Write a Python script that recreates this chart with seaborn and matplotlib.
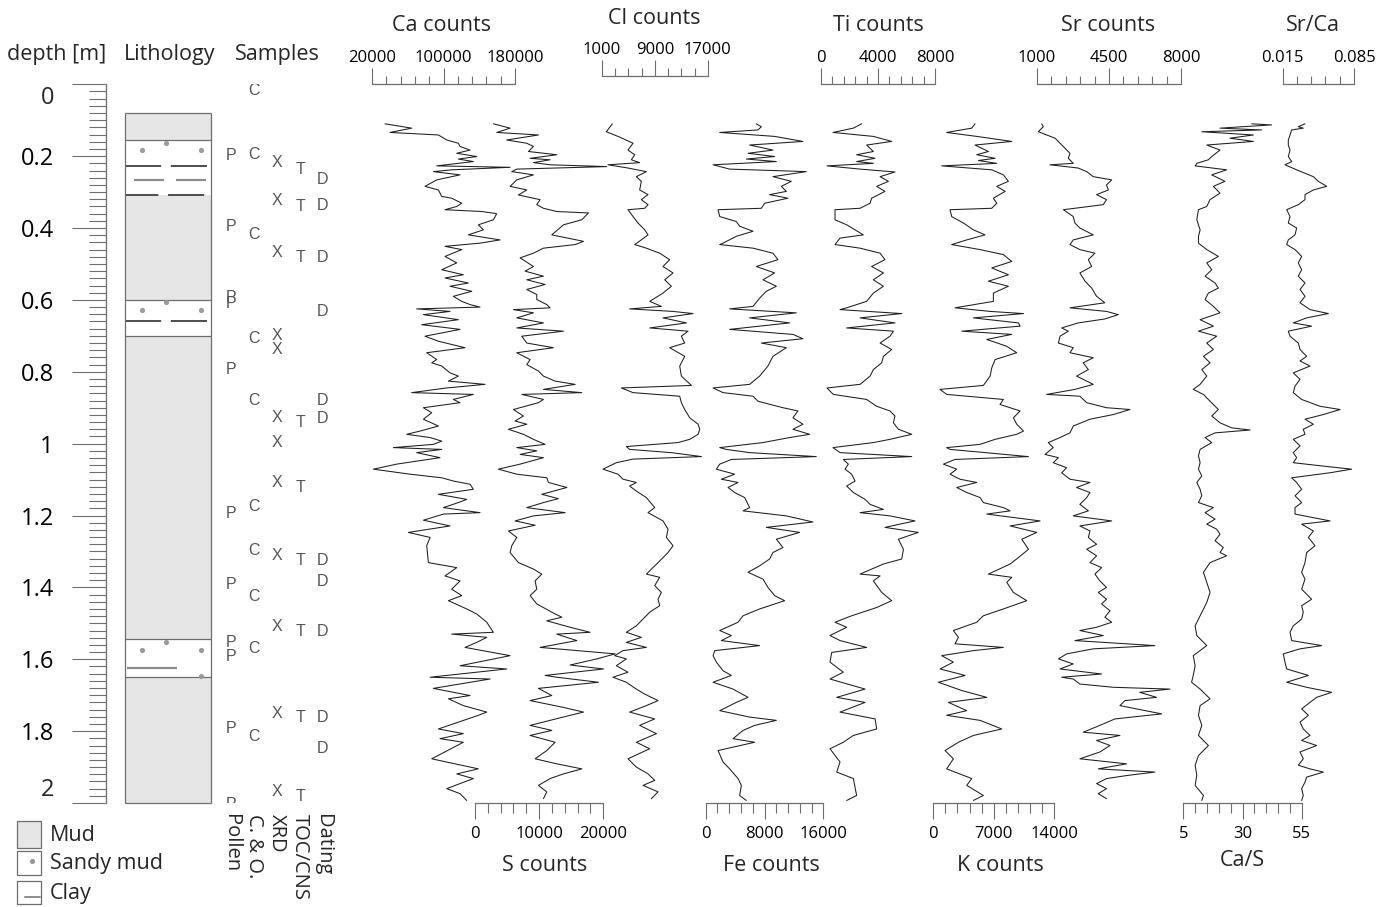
import numpy as np
import matplotlib
matplotlib.use("Agg")
import matplotlib.pyplot as plt
from matplotlib.ticker import FixedLocator
from matplotlib.patches import Rectangle
import seaborn as sns

# ---------------- data ----------------
ca_depth = [0.110,0.122,0.134,0.141,0.155,0.164,0.173,0.183,0.192,0.201,
            0.208,0.215,0.221,0.227,0.231,0.238,0.243,0.252,0.266,0.284,
            0.294,0.312,0.317,0.331,0.340,0.349,0.354,0.360,0.377,0.391,
            0.405,0.419,0.433,0.442,0.451,0.460,0.479,0.497,0.516,0.530,
            0.539,0.553,0.562,0.576,0.590,0.604,0.613,0.620,0.625,0.632,
            0.641,0.655,0.669,0.682,0.701,0.715,0.733,0.747,0.766,0.775,
            0.784,0.803,0.812,0.826,0.835,0.845,0.858,0.863,0.877,0.886,
            0.900,0.914,0.932,0.951,0.965,0.974,0.983,0.993,1.002,1.011,
            1.016,1.025,1.039,
            1.057,1.071,1.085,1.095,1.104,1.113,1.127,1.141,1.155,1.164,
            1.178,1.192,1.196,1.213,1.229,1.247,1.261,1.284,1.331,1.345,
            1.368,1.382,1.405,1.423,1.437,1.460,1.474,1.497,1.525,1.530,
            1.539,1.553,1.567,1.590,1.618,1.627,1.650,1.655,1.681,1.701,
            1.710,1.729,1.747,1.756,1.794,1.807,1.821,1.831,1.877,1.905,
            1.919,1.932,1.960,1.974,1.993]
ca_counts = [34600,64400,40200,94300,103600,116600,118500,129700,114800,137200,
             116600,133400,112900,92400,174500,109200,88700,118500,92400,79300,
             94300,98000,109200,120400,114800,101700,142800,159500,155800,139000,
             144600,127800,163300,140900,101700,120400,101700,114800,98000,122200,
             101700,127800,107300,131600,111000,120400,129700,140900,70000,107300,
             77500,116600,75600,118500,79300,94300,124100,81200,92400,86800,
             98000,107300,116600,105500,146500,103600,64400,133400,111000,118500,
             77500,86800,77500,94300,73700,58800,85000,98000,88700,43900,
             98000,70000,96100,
             47600,21500,62600,98000,111000,129700,133400,94300,126000,116600,
             99900,140900,99900,77500,107300,60700,85000,81200,83100,114800,
             101700,118500,109200,120400,105500,126000,137200,148400,155800,109200,
             148400,137200,124100,174500,118500,170700,85000,152100,88700,129700,
             105500,122200,148400,139000,94300,122200,96100,122200,86800,139000,
             114800,133400,103600,118500,126000]

s_depth = [0.110,0.122,0.134,0.141,0.155,0.164,0.173,0.187,0.196,0.206,
           0.210,0.218,0.224,0.229,0.236,0.243,0.252,0.266,0.284,0.294,
           0.308,0.321,0.335,0.345,0.354,0.358,0.377,0.391,0.419,0.437,
           0.446,0.456,0.470,0.483,0.507,0.520,0.534,0.544,0.557,0.571,
           0.585,0.599,0.613,0.622,0.627,0.636,0.650,0.664,0.678,0.687,
           0.701,0.720,0.733,0.747,0.766,0.780,0.798,0.812,0.826,0.835,
           0.849,0.858,0.863,0.877,0.886,0.905,0.923,0.937,0.946,0.960,
           0.974,0.988,1.002,1.011,1.020,1.030,1.039,
           1.057,1.071,1.085,1.095,1.108,1.122,1.141,1.153,1.164,1.178,
           1.192,1.201,1.215,1.227,1.243,1.261,1.284,1.303,1.331,1.349,
           1.363,1.382,1.405,1.423,1.446,1.469,1.483,1.493,1.511,1.525,
           1.530,1.548,1.567,1.585,1.599,1.616,1.627,1.645,1.650,1.664,
           1.681,1.701,1.715,1.733,1.747,1.756,1.784,1.798,1.812,1.831,
           1.854,1.877,1.891,1.905,1.919,1.932,1.951,1.969,1.988]
s_counts = [2870,5470,3390,9890,4950,8070,9110,8330,12750,8590,
            11710,9110,11710,20550,6510,5730,9110,6510,5470,8070,
            6770,10150,9630,10670,12750,17690,16650,13790,11970,16910,
            15610,10670,9110,7030,9110,7810,10670,8070,10930,8070,
            9630,9630,11190,11710,5990,9110,6510,10670,6510,13790,
            7290,8070,12230,6510,8590,8070,9890,10670,12490,15610,
            10670,16650,7290,10670,9890,5990,7550,6250,8070,5210,
            7550,9110,10930,6510,9630,7030,10670,
            7030,3650,6510,11190,11450,14310,10410,12990,10670,8070,
            14050,9110,6250,9370,5210,6510,5730,5470,6770,9110,
            10410,9370,9630,8590,9630,11970,13530,11190,14830,17950,
            12750,15870,10150,21850,18990,14830,20030,10930,12750,19250,
            9890,11970,8590,13530,16910,14830,8590,11970,8590,12490,
            11190,9370,12750,16650,13790,11710,9890,11190,10670]

cl_depth = [0.110,0.132,0.145,0.164,0.183,0.196,0.210,0.218,0.224,0.233,
            0.243,0.257,0.270,0.294,0.307,0.321,0.335,0.345,0.349,0.368,
            0.386,0.405,0.419,0.433,0.446,0.456,0.470,0.488,0.507,0.525,
            0.544,0.562,0.581,0.604,0.618,0.625,0.632,0.638,0.650,0.664,
            0.678,0.687,0.701,0.720,0.733,0.757,0.784,0.812,0.838,0.845,
            0.858,0.868,0.886,0.905,0.928,0.946,0.960,0.974,0.988,0.997,
            1.008,1.016,1.025,1.036,1.043,1.053,1.071,1.085,1.099,1.108,
            1.118,1.132,1.150,1.178,1.192,1.215,1.238,1.261,1.284,1.303,
            1.331,1.363,1.372,1.395,1.414,1.433,1.451,1.469,1.488,1.507,
            1.525,1.539,1.553,1.567,1.576,1.590,1.599,1.618,1.636,1.650,
            1.664,1.683,1.697,1.715,1.729,1.747,1.766,1.784,1.807,1.831,
            1.849,1.877,1.900,1.919,1.937,1.951,1.969,1.988]
cl_counts = [2590,1680,3440,5710,4950,5960,5460,6710,1930,4950,
             7720,6210,6960,6710,7970,6960,7970,7470,4950,5710,
             6460,7470,7970,6960,5960,7720,9730,11240,10230,11740,
             10490,11490,10230,8230,9980,5200,11740,14760,10230,13760,
             8230,14010,13000,13500,11240,13500,12750,13000,14510,3950,
             5710,12750,13000,13500,14260,15520,15770,15520,14260,12500,
             4700,5200,11490,16020,5710,3190,1180,3440,4200,6210,
             5200,6210,7720,8980,7970,10230,10990,10740,11740,10990,
             9480,7720,9730,8980,9980,9480,9730,8220,7220,6210,
             4700,6960,4700,7720,4200,2940,4700,3190,4950,2690,
             4700,6210,7470,9480,7720,5200,8980,6710,9230,6210,
             8220,4950,6210,7970,8980,7220,9480,8470]

fe_depth = [0.110,0.118,0.127,0.134,0.145,0.159,0.169,0.183,0.192,0.201,
            0.208,0.215,0.224,0.236,0.243,0.257,0.270,0.284,0.298,0.307,
            0.317,0.331,0.345,0.349,0.368,0.382,0.395,0.409,0.423,0.442,
            0.446,0.456,0.470,0.488,0.507,0.525,0.544,0.562,0.576,0.595,
            0.618,0.625,0.636,0.650,0.664,0.682,0.696,0.708,0.720,0.733,
            0.757,0.784,0.812,0.835,0.845,0.858,0.868,0.882,0.900,0.909,
            0.928,0.946,0.960,0.974,0.983,0.997,1.011,1.016,1.025,1.036,
            1.044,1.057,1.071,1.085,1.099,1.108,1.122,1.136,1.150,1.178,
            1.187,1.201,1.218,1.233,1.247,1.266,1.289,1.303,1.321,1.340,
            1.358,1.377,1.400,1.423,1.437,1.460,1.479,1.497,1.520,1.534,
            1.548,1.562,1.576,1.590,1.608,1.632,1.645,1.664,1.683,1.706,
            1.720,1.743,1.761,1.770,1.784,1.798,1.821,1.831,1.854,1.886,
            1.905,1.932,1.951,1.979,1.993]
fe_counts = [6890,7570,7110,1910,9380,13230,5980,9150,5760,9380,
             5530,9610,1000,3260,13680,9150,11640,10290,10970,8700,
             11190,8020,7570,1680,1910,4170,4620,6440,4170,2360,
             1910,6440,9150,9830,6890,9380,7790,9610,8250,7340,
             6440,3260,12320,5980,11420,3260,11870,13230,7570,10970,
             9150,8470,7340,5980,1000,2360,6440,7110,10510,12550,
             11870,13230,11870,14140,11420,7790,1910,2810,5980,15040,
             3490,1910,1450,3940,2130,4400,3040,3940,5300,5980,
             5080,10970,14590,8250,12780,9610,10510,9150,8700,7340,
             5760,7790,8470,9380,10740,7340,5080,4400,1910,3490,
             2130,7340,1230,1000,1450,2360,3490,1000,3720,5760,
             4170,1910,5980,9610,6660,5080,3720,6660,1680,2360,
             3260,4400,4850,4620,5530]

ti_depth = [0.110,0.122,0.134,0.145,0.159,0.169,0.187,0.196,0.206,0.215,
            0.220,0.227,0.236,0.244,0.257,0.270,0.284,0.298,0.317,0.331,
            0.345,0.349,0.377,0.391,0.405,0.419,0.428,0.446,0.456,0.470,
            0.488,0.507,0.525,0.544,0.562,0.581,0.604,0.622,0.627,0.638,
            0.650,0.664,0.678,0.687,0.701,0.720,0.738,0.757,0.775,0.794,
            0.812,0.835,0.845,0.863,0.877,0.896,0.909,0.923,0.942,0.960,
            0.974,0.988,0.997,1.011,1.025,1.036,1.044,1.057,1.071,1.085,
            1.104,1.118,1.136,1.155,1.169,1.183,1.192,1.201,1.215,1.233,
            1.247,1.266,1.294,1.321,1.335,1.363,1.368,1.382,1.414,1.437,
            1.456,1.479,1.497,1.511,1.534,1.548,1.567,1.581,1.608,1.636,
            1.655,1.683,1.706,1.720,1.747,1.766,1.794,1.812,1.831,1.849,
            1.886,1.914,1.932,1.979,1.993]
ti_counts = [2860,2280,860,3680,4960,3210,3680,2510,3800,2510,
             3680,440,2750,5190,4150,4730,3910,4490,3560,3450,
             2750,1000,1000,1815,2400,2980,1350,1000,2750,4150,
             4490,3560,4380,3680,4380,3680,3210,1815,1350,5660,
             2750,5190,1815,5080,4840,4150,4960,4380,4260,3680,
             3450,2750,440,880,3210,3910,4840,5190,5080,5430,
             6360,4840,3680,860,1350,6360,1580,1930,1700,2165,
             2400,1815,2280,3100,3450,4380,2750,4840,6590,4490,
             6820,5430,5780,5660,4380,2750,4150,3680,4260,4960,
             3910,2165,1000,1815,650,1350,3210,770,650,1580,
             650,3100,1120,3100,1350,3800,3910,2280,1580,650,
             1350,1120,2280,2510,1815]

k_depth = [0.110,0.122,0.134,0.145,0.159,0.169,0.187,0.196,0.206,0.212,
           0.220,0.227,0.238,0.252,0.270,0.284,0.298,0.317,0.331,0.345,
           0.349,0.368,0.386,0.405,0.419,0.433,0.446,0.460,0.474,0.493,
           0.511,0.530,0.548,0.562,0.581,0.604,0.622,0.632,0.638,0.650,
           0.664,0.673,0.687,0.696,0.710,0.729,0.747,0.766,0.789,0.812,
           0.838,0.849,0.863,0.877,0.891,0.909,0.928,0.946,0.965,0.974,
           0.988,1.002,1.011,1.016,1.036,1.044,1.057,1.071,1.085,1.099,
           1.108,1.122,1.136,1.150,1.164,1.178,1.187,1.196,1.215,1.229,
           1.247,1.266,1.294,1.317,1.335,1.363,1.372,1.386,1.414,1.437,
           1.460,1.479,1.497,1.520,1.539,1.557,1.567,1.576,1.590,1.608,
           1.627,1.645,1.664,1.687,1.706,1.720,1.743,1.756,1.770,1.794,
           1.812,1.831,1.854,1.877,1.905,1.932,1.951,1.979,1.993]
k_counts = [4840,4460,1550,5040,9100,4840,6390,5040,7170,5230,
            7360,970,6780,8130,8710,7360,8330,6970,7360,6780,
            1940,2130,3490,4650,6000,3880,2130,5420,8130,9100,
            6780,8710,6390,8710,6970,6970,2520,6590,10460,4650,
            9870,10070,3300,9100,6200,8520,9680,7170,6780,6590,
            5810,780,1550,8130,7740,10070,9290,9680,10460,9680,
            7170,5420,1550,1940,11040,2520,1170,2720,1940,3100,
            5040,2720,3880,5420,5810,8130,8910,6200,12390,8910,
            12000,10260,11040,9870,8910,6390,9100,8520,9290,10840,
            8130,5810,5040,2330,2910,2520,8130,4650,970,2330,
            780,3690,590,3300,6200,1750,3880,1550,5420,7940,
            4650,2910,1360,2330,1550,4460,3880,5810,4650]

sr_depth = [0.110,0.118,0.132,0.141,0.150,0.164,0.178,0.192,0.206,0.220,
            0.224,0.233,0.243,0.257,0.266,0.280,0.294,0.307,0.321,0.335,
            0.349,0.368,0.386,0.400,0.419,0.433,0.446,0.460,0.470,0.488,
            0.507,0.525,0.548,0.567,0.590,0.608,0.622,0.632,0.641,0.653,
            0.664,0.678,0.687,0.701,0.720,0.733,0.747,0.761,0.775,0.794,
            0.812,0.835,0.849,0.863,0.868,0.886,0.900,0.905,0.919,0.932,
            0.951,0.970,0.983,0.997,1.011,1.030,1.039,1.053,1.067,1.081,
            1.099,1.108,1.122,1.136,1.150,1.169,1.187,1.201,1.215,1.229,
            1.243,1.261,1.280,1.294,1.312,1.331,1.345,1.363,1.382,1.400,
            1.414,1.433,1.446,1.465,1.483,1.497,1.511,1.520,1.534,1.548,
            1.562,1.571,1.585,1.599,1.613,1.627,1.641,1.650,1.655,1.669,
            1.678,1.683,1.692,1.706,1.715,1.729,1.752,1.766,1.784,1.803,
            1.812,1.826,1.840,1.858,1.877,1.891,1.905,1.914,1.923,1.932,
            1.946,1.960,1.974,1.988]
sr_counts = [1240,1320,1080,1480,1890,2130,2370,2610,2530,2770,
             1640,3010,3420,3740,4630,4380,4470,3900,4380,4220,
             2290,2770,2850,3090,3740,2770,2610,3090,3820,3500,
             3660,3090,3340,3660,3900,4300,2610,4380,4950,4300,
             3010,2210,2530,2130,2050,2770,2610,3740,3250,3500,
             2930,3740,2850,1480,3090,3420,4380,5510,4710,3580,
             2770,2610,2130,1560,1800,1400,2050,1800,2450,2210,
             2610,3580,2930,3580,3420,3090,3500,2770,4630,3090,
             3580,3500,3900,3420,3900,3580,4140,3820,4060,4380,
             3980,4380,4140,4550,4300,4630,3900,3090,4220,2850,
             6720,3740,2450,2050,2770,2130,4140,2210,2770,3090,
             4710,7450,5990,6800,5270,5030,7050,4790,4060,3250,
             5030,3900,4550,4060,3090,5350,3980,6720,5430,4380,
             3900,4380,3980,4380]

cas_depth = [0.110,0.113,0.122,0.127,0.132,0.141,0.150,0.159,0.169,0.183,
             0.201,0.210,0.220,0.227,0.238,0.252,0.270,0.284,0.303,0.321,
             0.340,0.349,0.377,0.405,0.423,0.442,0.460,0.479,0.497,0.516,
             0.534,0.553,0.567,0.581,0.599,0.618,0.636,0.655,0.673,0.687,
             0.701,0.720,0.738,0.757,0.775,0.794,0.812,0.835,0.849,0.863,
             0.882,0.905,0.923,0.942,0.956,0.962,0.970,0.983,0.997,1.016,
             1.034,1.053,1.071,1.090,1.108,1.127,1.145,1.164,1.178,1.192,
             1.210,1.224,1.238,1.252,1.270,1.289,1.303,1.312,1.331,1.358,
             1.386,1.414,1.442,1.479,1.507,1.534,1.562,1.590,1.618,1.645,
             1.664,1.683,1.710,1.729,1.756,1.784,1.812,1.840,1.868,1.895,
             1.923,1.951,1.979,1.993]
cas_ratio = [33.9,42.3,20.5,38.1,12.8,34.6,24.7,34.6,14.9,20.5,
             17.0,15.6,10.7,10.0,23.3,17.0,22.6,17.7,20.5,16.3,
             14.9,11.4,10.7,12.1,11.4,11.4,14.9,19.8,14.9,17.0,
             14.2,18.4,19.8,15.6,14.2,17.7,20.5,12.1,17.7,11.4,
             19.1,14.9,17.7,13.5,16.3,12.8,14.9,12.1,9.2,13.5,
             16.3,19.8,17.0,20.5,25.4,33.2,18.4,14.2,17.0,12.1,
             11.4,12.1,11.4,12.8,10.7,12.1,12.8,11.4,17.7,14.2,
             18.4,14.9,19.1,20.5,18.4,21.9,20.5,23.3,16.3,13.5,
             14.9,16.3,14.9,12.1,10.0,10.7,14.9,9.2,10.0,9.2,
             8.5,12.1,16.3,12.1,11.4,12.8,11.4,15.6,11.4,10.0,
             10.7,10.0,13.5,12.8]

src_depth = [0.110,0.118,0.122,0.127,0.141,0.155,0.169,0.183,0.201,0.215,
             0.224,0.238,0.257,0.270,0.284,0.294,0.307,0.321,0.335,0.349,
             0.368,0.386,0.400,0.419,0.433,0.446,0.460,0.479,0.497,0.516,
             0.534,0.553,0.571,0.590,0.608,0.627,0.638,0.650,0.664,0.673,
             0.687,0.701,0.720,0.738,0.757,0.770,0.784,0.803,0.821,0.840,
             0.858,0.877,0.896,0.905,0.919,0.932,0.946,0.960,0.974,0.988,
             1.006,1.025,1.039,1.053,1.062,1.071,1.081,1.095,1.108,1.127,
             1.145,1.164,1.178,1.196,1.215,1.224,1.243,1.261,1.284,1.303,
             1.331,1.358,1.377,1.405,1.433,1.451,1.469,1.488,1.507,1.525,
             1.548,1.562,1.571,1.585,1.608,1.627,1.645,1.664,1.678,1.692,
             1.706,1.720,1.738,1.756,1.775,1.794,1.812,1.826,1.840,1.858,
             1.877,1.895,1.905,1.914,1.928,1.942,1.960,1.979,1.993]
src_ratio = [0.0369,0.0303,0.0352,0.0238,0.0222,0.0205,0.0205,0.0222,0.0205,0.0238,
             0.0172,0.0287,0.0451,0.0500,0.0582,0.0451,0.0369,0.0369,0.0303,0.0189,
             0.0222,0.0205,0.0287,0.0271,0.0205,0.0189,0.0271,0.0336,0.0303,0.0336,
             0.0303,0.0369,0.0320,0.0369,0.0320,0.0418,0.0598,0.0385,0.0254,0.0434,
             0.0205,0.0222,0.0303,0.0320,0.0385,0.0320,0.0418,0.0254,0.0320,0.0271,
             0.0254,0.0336,0.0516,0.0713,0.0549,0.0369,0.0451,0.0352,0.0369,0.0254,
             0.0320,0.0254,0.0287,0.0254,0.0533,0.0827,0.0615,0.0238,0.0287,0.0336,
             0.0271,0.0336,0.0271,0.0271,0.0615,0.0336,0.0451,0.0402,0.0467,0.0385,
             0.0369,0.0336,0.0369,0.0336,0.0434,0.0336,0.0352,0.0336,0.0254,0.0222,
             0.0238,0.0533,0.0320,0.0156,0.0172,0.0189,0.0402,0.0189,0.0385,0.0631,
             0.0483,0.0418,0.0336,0.0402,0.0320,0.0352,0.0418,0.0336,0.0483,0.0320,
             0.0352,0.0303,0.0418,0.0549,0.0385,0.0369,0.0336,0.0352,0.0336]

# lithology
lith_top = [0.08, 0.155, 0.227, 0.308, 0.60, 0.66, 0.70, 1.545, 1.65]
lith_base = [0.155, 0.227, 0.308, 0.60, 0.66, 0.70, 1.545, 1.65, 2.00]
lith_type = ["Mud", "Sandy mud", "Clay", "Mud", "Sandy mud", "Clay", "Mud", "Sandy mud", "Mud"]
sand_dot_depth = [0.162, 0.183, 0.183, 0.605, 0.627, 0.627, 1.552, 1.573, 1.573, 1.646]
sand_dot_pos = [0.48, 0.19, 0.89, 0.48, 0.19, 0.89, 0.48, 0.19, 0.89, 0.89]
clay_lens_depth = [0.267, 0.267, 1.625]
clay_lens_from = [0.105, 0.593, 0.02]
clay_lens_to = [0.453, 0.942, 0.60]

# samples
sample_cols = ["Pollen", "C. & O.", "XRD", "TOC/CNS", "Dating"]
sample_letters = ["P", "C", "X", "T", "D"]
pollen_depth = [0.197, 0.397, 0.592, 0.609, 0.795, 1.193, 1.393, 1.552, 1.591, 1.794, 2.005]
co_depth = [0.016, 0.194, 0.419, 0.706, 0.881, 1.176, 1.296, 1.424, 1.569, 1.814]
xrd_depth = [0.219, 0.322, 0.469, 0.698, 0.737, 0.928, 0.998, 1.109, 1.310, 1.510, 1.750, 1.969]
toc_depth = [0.238, 0.341, 0.483, 0.942, 1.123, 1.324, 1.524, 1.763, 1.983]
dating_depth = [0.266, 0.336, 0.483, 0.631, 0.881, 0.931, 1.324, 1.383, 1.524, 1.763, 1.849]

# ---------------- style ----------------
sns.set_theme(style="white")
plt.rcParams["font.family"] = ["Open Sans", "DejaVu Sans"]
plt.rcParams["lines.scale_dashes"] = False

W, H = 1389, 907
Y0, Y1 = 84.3, 803.0          # pixel rows of depth 0 m and 2 m
GREY = "#6e6e6e"
LINE = "#1e1e1e"
MUD = "#e6e6e6"

fig = plt.figure(figsize=(W / 100, H / 100), dpi=100)


def px_axes(x0, x1, y0, y1):
    return fig.add_axes([x0 / W, 1 - y1 / H, (x1 - x0) / W, (y1 - y0) / H])


def ftext(x, y, s, **kw):
    fig.text(x / W, 1 - y / H, s, **kw)


def curve(x0, x1, lo, hi, major, labels, nminor, side, depth, vals, top=Y0):
    ax = px_axes(x0, x1, top, Y1)
    ax.patch.set_visible(False)
    sns.lineplot(x=vals, y=depth, orient="y", estimator=None, sort=False,
                 color=LINE, lw=0.75, ax=ax, clip_on=False)
    ax.set_xlim(lo, hi)
    ax.set_ylim(2.0, -2.0 * (Y0 - top) / (Y1 - Y0))
    ax.set_xlabel("")
    ax.set_ylabel("")
    ax.set_yticks([])
    for s in ax.spines.values():
        s.set_visible(False)
    ax.spines[side].set_visible(True)
    ax.spines[side].set_color(GREY)
    ax.spines[side].set_linewidth(0.9)
    ax.xaxis.set_major_locator(FixedLocator(major))
    ax.xaxis.set_minor_locator(FixedLocator(np.linspace(lo, hi, nminor + 1)))
    ax.set_xticklabels(labels)
    if side == "top":
        ax.tick_params(axis="x", which="both", top=True, bottom=False,
                       labeltop=True, labelbottom=False, direction="out")
        ax.tick_params(axis="x", which="major", length=11.5, pad=2)
        ax.tick_params(axis="x", which="minor", length=5.5)
    else:
        ax.tick_params(axis="x", which="both", top=False, bottom=True,
                       labeltop=False, labelbottom=True, direction="out")
        ax.tick_params(axis="x", which="major", length=11.5, pad=5)
        ax.tick_params(axis="x", which="minor", length=7.5)
    ax.tick_params(axis="x", which="both", width=0.8, color=GREY,
                   labelsize=12, labelcolor="black")
    return ax


# ---------------- depth axis ----------------
axd = px_axes(106, 110, Y0, Y1)
axd.patch.set_visible(False)
axd.set_ylim(2.0, 0.0)
axd.set_xticks([])
for s in ["top", "bottom", "right"]:
    axd.spines[s].set_visible(False)
axd.spines["left"].set_color(GREY)
axd.spines["left"].set_linewidth(0.9)
depth_major = np.round(np.arange(0, 2.001, 0.2), 1)
axd.yaxis.set_major_locator(FixedLocator(depth_major))
axd.yaxis.set_minor_locator(FixedLocator(np.arange(0, 2.001, 0.02)))
axd.set_yticklabels([""] + [f"{v:g}" for v in depth_major[1:-1]] + [""])
axd.tick_params(axis="y", which="both", left=True, right=False, direction="out")
axd.tick_params(axis="y", which="major", length=24.5, width=0.8, color=GREY,
                pad=13, labelsize=17, labelcolor="black")
axd.tick_params(axis="y", which="minor", length=12.2, width=0.8, color=GREY)
for dep, lab in [(0.038, "0"), (1.964, "2")]:
    axd.text(-(106 - 54) / 4.0, dep, lab, transform=axd.get_yaxis_transform(),
             ha="right", va="center", fontsize=17)

# ---------------- lithology ----------------
axl = px_axes(125.3, 210.7, Y0, Y1)
axl.patch.set_visible(False)
axl.set_xlim(0, 1)
axl.set_ylim(2.0, 0.0)
axl.axis("off")
fills = {"Mud": MUD, "Sandy mud": "white", "Clay": "white"}
mids = [(t + b) / 2 for t, b in zip(lith_top, lith_base)]
thick = [b - t for t, b in zip(lith_top, lith_base)]
axl.barh(mids, [1] * len(mids), height=thick, left=0,
         color=[fills[k] for k in lith_type], edgecolor="none")
for i, (t, b, k) in enumerate(zip(lith_top, lith_base, lith_type)):
    if k == "Clay":
        axl.hlines(t, 0, 1, colors="#4d4d4d", lw=1.4, linestyles=(0, (26, 7)))
        if b - t > 0.05:
            axl.hlines(b, 0, 1, colors="#4d4d4d", lw=1.4, linestyles=(2, (26, 7)))
        else:
            axl.hlines(b, 0, 1, colors=GREY, lw=0.9)
    else:
        if i == 0 or lith_type[i - 1] != "Clay":
            axl.hlines(t, 0, 1, colors=GREY, lw=0.9, clip_on=False)
axl.hlines(lith_base[-1], 0, 1, colors=GREY, lw=0.9, clip_on=False)
axl.vlines([0, 1], lith_top[0], lith_base[-1], colors=GREY, lw=0.9, clip_on=False)
axl.scatter(sand_dot_pos, sand_dot_depth, s=14, color="#9a9a9a", linewidths=0, zorder=3)
axl.hlines(clay_lens_depth, clay_lens_from, clay_lens_to, colors="#8c8c8c", lw=1.6)

# ---------------- samples ----------------
axs = px_axes(219.5, 334.5, Y0, Y1)
axs.patch.set_visible(False)
axs.set_xlim(0, 5)
axs.set_ylim(2.0, 0.0)
axs.axis("off")
for i, (letter, deps) in enumerate(zip(sample_letters,
                                       [pollen_depth, co_depth, xrd_depth, toc_depth, dating_depth])):
    for d in deps:
        axs.text(i + 0.5, d, letter, ha="center", va="center", fontsize=11.5,
                 color="#555555", family=["Liberation Sans", "DejaVu Sans"],
                 clip_on=True)
for i, name in enumerate(sample_cols):
    ftext(219.5 + 23 * (i + 0.5), 814, name, rotation=270, ha="center", va="top",
          fontsize=14.5)

# ---------------- XRF curves ----------------
curve(372, 515, 20000, 180000, [20000, 100000, 180000], ["20000", "100000", "180000"], 10,
      "top", ca_depth, ca_counts)
curve(475, 603.3, 0, 20000, [0, 10000, 20000], ["0", "10000", "20000"], 10,
      "bottom", s_depth, s_counts)
curve(601.8, 707.9, 1000, 17000, [1000, 9000, 17000], ["1000", "9000", "17000"], 8,
      "top", cl_depth, cl_counts, top=76.3)
curve(705.7, 823.3, 0, 16000, [0, 8000, 16000], ["0", "8000", "16000"], 10,
      "bottom", fe_depth, fe_counts)
curve(820.7, 935.2, 0, 8000, [0, 4000, 8000], ["0", "4000", "8000"], 10,
      "top", ti_depth, ti_counts)
curve(933.3, 1054, 0, 14000, [0, 7000, 14000], ["0", "7000", "14000"], 10,
      "bottom", k_depth, k_counts)
curve(1036.7, 1181.3, 1000, 8000, [1000, 4500, 8000], ["1000", "4500", "8000"], 10,
      "top", sr_depth, sr_counts)
curve(1183.3, 1301.7, 5, 55, [5, 30, 55], ["5", "30", "55"], 10,
      "bottom", cas_depth, cas_ratio)
curve(1282.7, 1354, 0.015, 0.085, [0.015, 0.085], ["0.015", "0.085"], 5,
      "top", src_depth, src_ratio)

# ---------------- titles ----------------
TS = 15.5
ftext(57, 60, "depth [m]", ha="center", va="baseline", fontsize=TS)
ftext(170, 60, "Lithology", ha="center", va="baseline", fontsize=TS)
ftext(277, 60, "Samples", ha="center", va="baseline", fontsize=TS)
ftext(441, 31, "Ca counts", ha="center", va="baseline", fontsize=TS)
ftext(654, 24, "Cl counts", ha="center", va="baseline", fontsize=TS)
ftext(878, 31, "Ti counts", ha="center", va="baseline", fontsize=TS)
ftext(1108, 31, "Sr counts", ha="center", va="baseline", fontsize=TS)
ftext(1313, 31, "Sr/Ca", ha="center", va="baseline", fontsize=TS)
ftext(545, 871, "S counts", ha="center", va="baseline", fontsize=TS)
ftext(771, 871, "Fe counts", ha="center", va="baseline", fontsize=TS)
ftext(1000, 871, "K counts", ha="center", va="baseline", fontsize=TS)
ftext(1242, 866, "Ca/S", ha="center", va="baseline", fontsize=TS)

# ---------------- lithology legend ----------------
axf = fig.add_axes([0, 0, 1, 1])
axf.set_xlim(0, W)
axf.set_ylim(H, 0)
axf.axis("off")
axf.patch.set_visible(False)
legend_items = ["Mud", "Sandy mud", "Clay"]
box_y = [821, 851, 881]
box_h = [27, 24, 23]
for name, by, bh in zip(legend_items, box_y, box_h):
    axf.add_patch(Rectangle((17, by), 24, bh, facecolor=fills[name],
                            edgecolor=GREY, lw=0.9))
    axf.text(50, by + bh / 2 + 1, name, ha="left", va="center", fontsize=TS)
axf.scatter([32], [861], s=14, color="#9a9a9a", linewidths=0)
axf.plot([25, 40], [897, 897], color="#8c8c8c", lw=1.4)

fig.savefig("out.png", dpi=100)
